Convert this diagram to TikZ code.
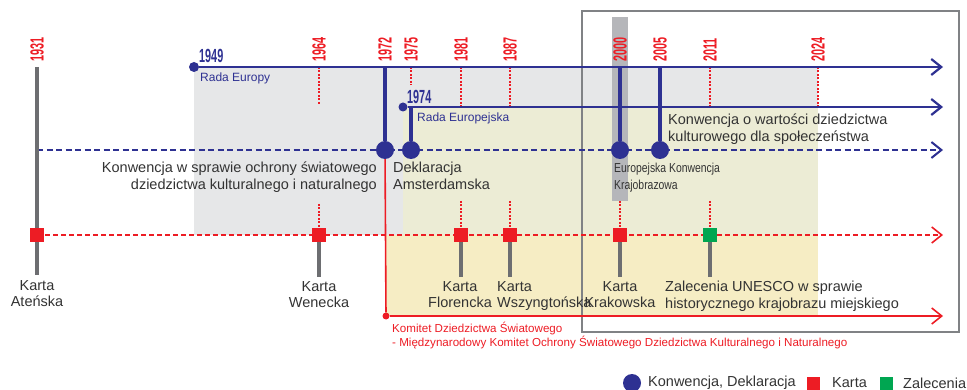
\documentclass[tikz,border=0pt]{standalone}
\usepackage{fontspec}
\setmainfont{Liberation Sans}
\newfontfamily\yearfont{Liberation Sans Bold}[FakeStretch=0.57]
\newfontfamily\condfont{Liberation Sans}[FakeStretch=0.8]
\usetikzlibrary{arrows.meta,positioning}

\definecolor{ueblue}{HTML}{2E3192}
\definecolor{uered}{HTML}{ED1C24}
\definecolor{uegreen}{HTML}{00A651}
\definecolor{stemgrey}{HTML}{6D6E71}
\definecolor{bggrey}{HTML}{E6E7E8}
\definecolor{bgpale}{HTML}{ECECD5}
\definecolor{bgyellow}{HTML}{F6EDC4}
\definecolor{bargrey}{HTML}{B5B6BA}
\definecolor{framegrey}{HTML}{808285}
\definecolor{txtgrey}{HTML}{333333}

\tikzset{
  yearlbl/.style={font=\yearfont\fontsize{19}{19}\selectfont, text=uered, rotate=90, anchor=west, inner sep=0pt},
  txt/.style={font=\fontsize{14.5}{16.5}\selectfont, text=txtgrey, inner sep=0pt},
  smalltxt/.style={font=\fontsize{12}{14}\selectfont, inner sep=0pt},
  bigdot/.style={circle, fill=ueblue, minimum size=18pt, inner sep=0pt},
  redsq/.style={rectangle, fill=uered, minimum size=14pt, inner sep=0pt},
  greensq/.style={rectangle, fill=uegreen, minimum size=14pt, inner sep=0pt},
  stem/.style={line width=4pt, stemgrey},
  bluestem/.style={line width=3.5pt, ueblue},
  tick/.style={uered, line width=1.1pt, dash pattern=on 2pt off 1.5pt},
  chev/.style={-{Straight Barb[length=10pt,width=16pt]}}
}

\begin{document}
\begin{tikzpicture}[x=1pt,y=-1pt]
  \def\ytop{67}
  \def\ymid{107}
  \def\yconv{150}
  \def\ykarta{235}
  \def\ykom{316}
  \def\xend{943}

  \useasboundingbox (0,0) rectangle (967,390);

  % Backgrounds
  \fill[bggrey] (194,\ytop) rectangle (818,\ymid);
  \fill[bggrey] (194,\ymid) rectangle (403,\ykarta);
  \fill[bgpale] (403,\ymid) rectangle (818,\ykarta);
  \fill[bgyellow] (385,\ykarta) rectangle (818,\ykom);
  \fill[bargrey] (612,17) rectangle (628,201);

  % Frame
  \draw[framegrey, line width=1.2pt] (582,11) rectangle (959,332);

  % Year labels
  \foreach \xx/\yr in {37/1931,319/1964,385/1972,411/1975,461/1981,510/1987,620/2000,660/2005,710/2011,818/2024}
    \node[yearlbl] (y\yr) at (\xx,62) {\yr};

  % Red ticks under the top line
  \foreach \xx/\yb in {319/105,411/85,461/107,510/107,710/107,818/107}
    \draw[tick] (\xx,\ytop) -- (\xx,\yb);

  % Rada Europy
  \node[circle, fill=ueblue, minimum size=10pt, inner sep=0pt] (d1949) at (194,\ytop) {};
  \coordinate (e1949) at (\xend,\ytop);
  \draw[ueblue, line width=2.2pt, chev] (d1949) -- (e1949);
  \node[font=\yearfont\fontsize{19}{19}\selectfont, text=ueblue, anchor=base west, inner sep=0pt] (n1949) at (199,63) {1949};
  \node[smalltxt, text=ueblue, anchor=base west] (rada) at (200,82) {Rada Europy};

  % Rada Europejska
  \node[circle, fill=ueblue, minimum size=9pt, inner sep=0pt] (d1974) at (403,\ymid) {};
  \coordinate (e1974) at (\xend,\ymid);
  \draw[ueblue, line width=2.2pt, chev] (d1974) -- (e1974);
  \node[font=\yearfont\fontsize{19}{19}\selectfont, text=ueblue, anchor=base west, inner sep=0pt] (n1974) at (407,104) {1974};
  \node[smalltxt, text=ueblue, anchor=base west] (radaeu) at (417,122) {Rada Europejska};

  % Conventions line
  \coordinate (c1931) at (37,\yconv);
  \coordinate (cend) at (\xend,\yconv);
  \draw[ueblue, line width=2pt, dash pattern=on 6pt off 3.5pt, chev] (c1931) -- (cend);

  \foreach \xx/\yr/\ys in {385/1972/\ytop, 411/1975/\ymid, 620/2000/\ytop, 660/2005/\ytop} {
    \node[bigdot] (k\yr) at (\xx,\yconv) {};
    \coordinate (t\yr) at (\xx,\ys);
    \draw[bluestem] (t\yr) -- (k\yr);
  }

  \node[txt, align=right, anchor=north east] (lk1972) at (377,162) {Konwencja w sprawie ochrony światowego\\dziedzictwa kulturalnego i naturalnego};
  \node[txt, align=left, anchor=north west] (lk1975) at (393,162) {Deklaracja\\Amsterdamska};
  \node[font=\condfont\fontsize{13}{17}\selectfont, text=txtgrey, inner sep=0pt, align=left, anchor=north west] (lk2000) at (614,163) {Europejska Konwencja\\Krajobrazowa};
  \node[txt, align=left, anchor=north west] (lk2005) at (668,114) {Konwencja o wartości dziedzictwa\\kulturowego dla społeczeństwa};

  % Committee
  \node[circle, fill=uered, minimum size=7pt, inner sep=0pt] (kom) at (386,\ykom) {};
  \coordinate (kend) at (\xend,\ykom);
  \draw[uered, line width=1.6pt] (k1972) -- (kom);
  \draw[uered, line width=1.6pt, chev] (kom) -- (kend);
  \node[font=\fontsize{11.6}{14}\selectfont, text=uered, inner sep=0pt, align=left, anchor=north west] (lkom) at (392,322) {Komitet Dziedzictwa Światowego\\- Międzynarodowy Komitet Ochrony Światowego Dziedzictwa Kulturalnego i Naturalnego};

  % Charters line
  \coordinate (q1931) at (37,\ykarta);
  \coordinate (qend) at (\xend,\ykarta);
  \draw[uered, line width=1.6pt, dash pattern=on 5pt off 3pt, chev] (q1931) -- (qend);

  \foreach \xx/\yr/\yb in {319/1964/204, 461/1981/201, 510/1987/201, 620/2000/201, 710/2011/201}
    \draw[tick] (\xx,\yb) -- (\xx,\ykarta);

  \foreach \xx/\yr in {37/1931, 319/1964, 461/1981, 510/1987, 620/2000}
    \node[redsq] (sq\yr) at (\xx,\ykarta) {};
  \node[greensq] (sq2011) at (710,\ykarta) {};

  \node[txt, align=center, anchor=north] (l1931) at (37,280) {Karta\\Ateńska};
  \node[txt, align=center, anchor=north] (l1964) at (319,281) {Karta\\Wenecka};
  \node[txt, align=center, anchor=north] (l1981) at (460,281) {Karta\\Florencka};
  \node[txt, align=left, anchor=north west] (l1987) at (497,281) {Karta\\Wszyngtońska};
  \node[txt, align=center, anchor=north] (l2000) at (620,281) {Karta\\Krakowska};
  \node[txt, align=left, anchor=north west] (l2011) at (665,281) {Zalecenia UNESCO w sprawie\\historycznego krajobrazu miejskiego};

  \coordinate (t1931) at (37,\ytop);
  \draw[stem] (t1931) -- (sq1931);
  \draw[stem] (sq1931) -- (37,275);
  \foreach \yr in {1964,1981,1987,2000,2011}
    \draw[stem] (sq\yr) -- (sq\yr |- 0,277);

  % Legend
  \node[circle, fill=ueblue, minimum size=18pt, inner sep=0pt] (legk) at (632,383) {};
  \node[txt, anchor=west] (legkt) at (648,383) {Konwencja, Deklaracja};
  \node[redsq, minimum size=13pt] (legr) at (813,383) {};
  \node[txt, anchor=west] (legrt) at (832,383) {Karta};
  \node[greensq, minimum size=13pt] (legg) at (886,383) {};
  \node[txt, anchor=west] (leggt) at (903,383) {Zalecenia};
\end{tikzpicture}
\end{document}
